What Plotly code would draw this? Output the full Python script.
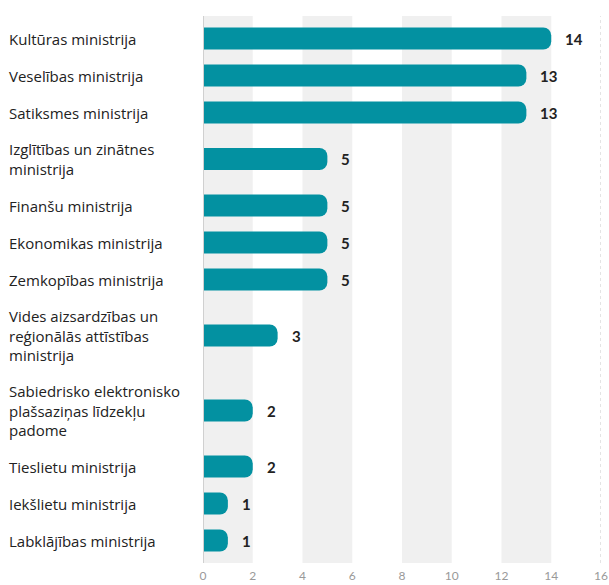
import plotly.graph_objects as go

categories = [
    "Kultūras ministrija",
    "Veselības ministrija",
    "Satiksmes ministrija",
    "Izglītības un zinātnes<br>ministrija",
    "Finanšu ministrija",
    "Ekonomikas ministrija",
    "Zemkopības ministrija",
    "Vides aizsardzības un<br>reģionālās attīstības<br>ministrija",
    "Sabiedrisko elektronisko<br>plašsaziņas līdzekļu<br>padome",
    "Tieslietu ministrija",
    "Iekšlietu ministrija",
    "Labklājības ministrija",
]
values = [14, 13, 13, 5, 5, 5, 5, 3, 2, 2, 1, 1]
x_ticks = [0, 2, 4, 6, 8, 10, 12, 14, 16]

BAR_COLOR = "#0391a1"
BAND_COLOR = "#f0f0f0"

# Row heights grow with the number of label lines
ROW_BASE = 37
ROW_EXTRA = 19
PAD = 4
positions = []
cursor = PAD
for c in categories:
    n = c.count("<br>") + 1
    h = ROW_BASE + ROW_EXTRA * (n - 1)
    positions.append(cursor + h / 2)
    cursor += h
total = cursor + PAD

fig = go.Figure()
fig.add_trace(go.Bar(
    x=values, y=positions, orientation="h",
    width=22,
    marker=dict(color=BAR_COLOR, cornerradius=8, line=dict(width=0)),
    hoverinfo="skip",
))

shapes = []
for i in range(0, len(x_ticks) - 1, 2):
    shapes.append(dict(type="rect", xref="x", yref="paper",
                       x0=x_ticks[i], x1=x_ticks[i + 1], y0=0, y1=1,
                       fillcolor=BAND_COLOR, line=dict(width=0), layer="below"))
shapes.append(dict(type="line", xref="x", yref="paper", x0=0, x1=0, y0=0, y1=1,
                   line=dict(color="#d0d0d0", width=2), layer="above"))
shapes.append(dict(type="line", xref="x", yref="paper", x0=x_ticks[-1], x1=x_ticks[-1],
                   y0=0, y1=1, line=dict(color="#c8c8c8", width=1, dash="3px,3px")))

LEFT = 203
annotations = []
for c, p, v in zip(categories, positions, values):
    annotations.append(dict(
        x=0, xref="paper", xshift=-LEFT + 7, y=p, yref="y",
        text=c, showarrow=False, xanchor="left", yanchor="middle", align="left",
        font=dict(family="Open Sans, sans-serif", size=15, color="#222222"),
    ))
    annotations.append(dict(
        x=v, xref="x", y=p, yref="y", text=str(v), showarrow=False,
        xanchor="left", yanchor="middle", xshift=12,
        font=dict(family="Lato, sans-serif", size=15, color="#222222", weight="bold"),
    ))

fig.update_layout(
    width=609, height=585,
    margin=dict(l=LEFT, r=8, t=16, b=22),
    paper_bgcolor="white", plot_bgcolor="white",
    showlegend=False,
    shapes=shapes,
    annotations=annotations,
    xaxis=dict(range=[0, 16], tickvals=x_ticks, showgrid=False, zeroline=False,
               showline=False, ticks="", automargin=False, ticklabelstandoff=4,
               tickfont=dict(family="Lato, sans-serif", size=12, color="#999999"),
               fixedrange=True),
    yaxis=dict(range=[total, 0], showticklabels=False, showgrid=False, zeroline=False,
               showline=False, automargin=False, fixedrange=True),
)

fig.write_html("out.html", config={"displayModeBar": False},
               post_script="document.body.style.margin='0';document.body.style.overflow='hidden';")
